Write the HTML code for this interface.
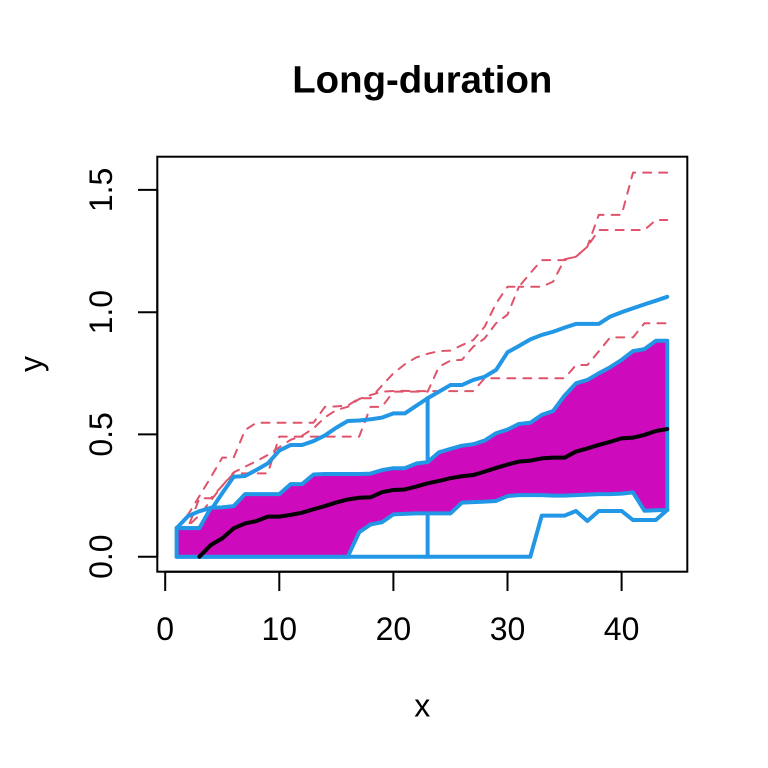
<!DOCTYPE html>
<html><head><meta charset="utf-8"><style>
html,body{margin:0;padding:0;background:#fff;}
svg{display:block;}
text{font-family:"Liberation Sans",Arial,sans-serif;fill:#000;}
</style></head><body>
<svg width="768" height="768" viewBox="0 0 768 768" xmlns="http://www.w3.org/2000/svg">
<rect width="768" height="768" fill="#fff"/>
<text x="422.3" y="92.3" text-anchor="middle" font-size="38.4" font-weight="bold">Long-duration</text>

<g transform="matrix(11.41,0,0,-244.5,165.2,556.7)" fill="none" stroke-linejoin="round" stroke-linecap="round">
<!-- red dashed -->
<g stroke="#DF536B" stroke-width="2" stroke-dasharray="8 8" vector-effect="non-scaling-stroke">
<polyline vector-effect="non-scaling-stroke" points="1,0.117 2,0.172 3,0.248 4,0.325 5,0.405 6,0.405 7,0.518 8,0.548 9,0.548 10,0.548 11,0.548 12,0.548 13,0.548 14,0.613 15,0.615 16,0.618 17,0.648 18,0.648 19,0.70 20,0.75 21,0.787 22,0.815 23,0.83 24,0.841 25,0.843 26,0.865 27,0.886 28,0.941 29,1.036 30,1.104 31,1.104 32,1.16 33,1.213 34,1.213 35,1.213 36,1.227 37,1.268 38,1.398 39,1.398 40,1.398 41,1.571 42,1.571 43,1.571 44,1.571"/>
<polyline vector-effect="non-scaling-stroke" points="1,0.117 2,0.12 3,0.239 4,0.239 5,0.29 6,0.341 7,0.341 8,0.341 9,0.341 10,0.491 11,0.491 12,0.491 13,0.491 14,0.491 15,0.491 16,0.491 17,0.491 18,0.613 19,0.613 20,0.675 21,0.675 22,0.675 23,0.675 24,0.777 25,0.802 26,0.805 27,0.859 28,0.893 29,0.955 30,0.99 31,1.104 32,1.104 33,1.104 34,1.125 35,1.216 36,1.227 37,1.268 38,1.336 39,1.336 40,1.336 41,1.336 42,1.336 43,1.377 44,1.377"/>
<polyline vector-effect="non-scaling-stroke" points="1,0.117 2,0.125 3,0.17 4,0.23 5,0.29 6,0.345 7,0.368 8,0.391 9,0.416 10,0.448 11,0.478 12,0.495 13,0.525 14,0.570 15,0.600 16,0.613 17,0.645 18,0.661 19,0.675 20,0.678 21,0.678 22,0.677 23,0.677 24,0.677 25,0.677 26,0.677 27,0.677 28,0.730 29,0.730 30,0.730 31,0.730 32,0.730 33,0.730 34,0.730 35,0.730 36,0.784 37,0.784 38,0.84 39,0.897 40,0.897 41,0.897 42,0.955 43,0.955 44,0.955"/>
</g>
<!-- blue lines -->
<g stroke="#2297E6" stroke-width="4">
<polyline vector-effect="non-scaling-stroke" points="1,0.117 2,0.117 3,0.117 4,0.19 5,0.26 6,0.327 7,0.33 8,0.355 9,0.382 10,0.434 11,0.457 12,0.457 13,0.473 14,0.496 15,0.528 16,0.555 17,0.557 18,0.562 19,0.569 20,0.586 21,0.586 22,0.617 23,0.648 24,0.675 25,0.702 26,0.702 27,0.723 28,0.736 29,0.764 30,0.836 31,0.862 32,0.889 33,0.907 34,0.920 35,0.937 36,0.952 37,0.952 38,0.952 39,0.982 40,1.0 41,1.016 42,1.032 43,1.047 44,1.063"/>
<polyline vector-effect="non-scaling-stroke" points="1,0.117 2,0.166 3,0.186 4,0.2"/>
<polyline vector-effect="non-scaling-stroke" points="1,0 32,0 33,0.168 34,0.168 35,0.168 36,0.187 37,0.146 38,0.187 39,0.187 40,0.187 41,0.150 42,0.150 43,0.150 44,0.191"/>
<polyline vector-effect="non-scaling-stroke" points="23,0 23,0.648"/>
</g>
<!-- polygon -->
<polygon vector-effect="non-scaling-stroke" fill="#CD0BBC" stroke="#2297E6" stroke-width="4" points="1,0.117 2,0.117 3,0.117 4,0.200 5,0.202 6,0.207 7,0.256 8,0.256 9,0.256 10,0.256 11,0.297 12,0.297 13,0.336 14,0.338 15,0.338 16,0.338 17,0.338 18,0.340 19,0.354 20,0.362 21,0.362 22,0.381 23,0.387 24,0.427 25,0.441 26,0.454 27,0.460 28,0.475 29,0.505 30,0.520 31,0.543 32,0.548 33,0.580 34,0.596 35,0.659 36,0.709 37,0.723 38,0.750 39,0.775 40,0.805 41,0.841 42,0.849 43,0.883 44,0.883 44,0.191 43,0.190 42,0.188 41,0.263 40,0.258 39,0.256 38,0.256 37,0.254 36,0.252 35,0.250 34,0.250 33,0.252 32,0.252 31,0.252 30,0.248 29,0.228 28,0.225 27,0.223 26,0.221 25,0.177 24,0.177 23,0.177 22,0.177 21,0.175 20,0.173 19,0.141 18,0.132 17,0.100 16,0 1,0"/>
<!-- black median -->
<polyline vector-effect="non-scaling-stroke" stroke="#000" stroke-width="4" points="3,0 4,0.048 5,0.075 6,0.116 7,0.136 8,0.146 9,0.164 10,0.164 11,0.171 12,0.180 13,0.194 14,0.207 15,0.222 16,0.234 17,0.241 18,0.243 19,0.264 20,0.273 21,0.275 22,0.287 23,0.300 24,0.310 25,0.321 26,0.329 27,0.334 28,0.348 29,0.363 30,0.377 31,0.389 32,0.393 33,0.402 34,0.405 35,0.405 36,0.430 37,0.443 38,0.457 39,0.470 40,0.484 41,0.487 42,0.498 43,0.514 44,0.522"/>
</g>

<!-- box -->
<rect x="157.3" y="156.7" width="530" height="415" fill="none" stroke="#000" stroke-width="2"/>
<!-- x axis -->
<g stroke="#000" stroke-width="2" fill="none">
<line x1="165.2" y1="571.7" x2="621.6" y2="571.7"/>
<line x1="165.2" y1="571.7" x2="165.2" y2="591"/>
<line x1="279.3" y1="571.7" x2="279.3" y2="591"/>
<line x1="393.4" y1="571.7" x2="393.4" y2="591"/>
<line x1="507.5" y1="571.7" x2="507.5" y2="591"/>
<line x1="621.6" y1="571.7" x2="621.6" y2="591"/>
<!-- y axis -->
<line x1="157.3" y1="556.7" x2="157.3" y2="189.9"/>
<line x1="157.3" y1="556.7" x2="138" y2="556.7"/>
<line x1="157.3" y1="434.4" x2="138" y2="434.4"/>
<line x1="157.3" y1="312.2" x2="138" y2="312.2"/>
<line x1="157.3" y1="189.9" x2="138" y2="189.9"/>
</g>
<g font-size="32" text-anchor="middle">
<text x="165.2" y="640">0</text>
<text x="279.3" y="640">10</text>
<text x="393.4" y="640">20</text>
<text x="507.5" y="640">30</text>
<text x="621.6" y="640">40</text>
<text transform="translate(112,556.7) rotate(-90)">0.0</text>
<text transform="translate(112,434.4) rotate(-90)">0.5</text>
<text transform="translate(112,312.2) rotate(-90)">1.0</text>
<text transform="translate(112,189.9) rotate(-90)">1.5</text>
<text x="422.3" y="716.7">x</text>
<text transform="translate(42,364) rotate(-90)">y</text>
</g>
</svg>
</body></html>
